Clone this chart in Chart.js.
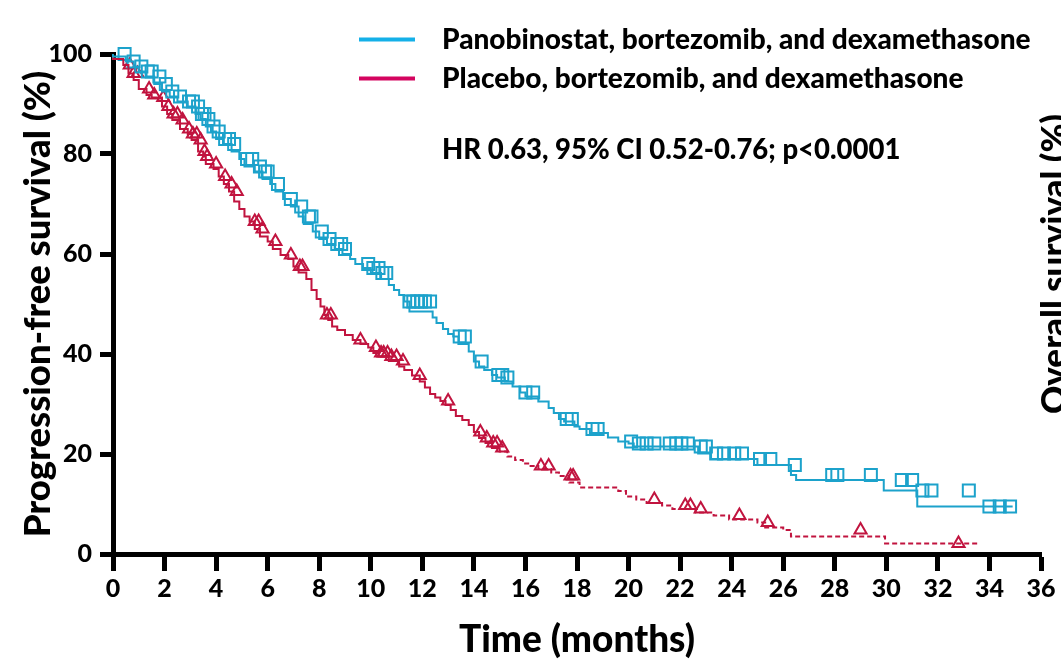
<!DOCTYPE html>
<html>
<head>
<meta charset="utf-8">
<script src="https://cdn.jsdelivr.net/npm/chart.js@4.4.1/dist/chart.umd.min.js"></script>
<style>
html, body { margin: 0; padding: 0; background: #fff; }
#wrap { width: 1061px; height: 664px; position: relative; }
</style>
</head>
<body>
<div id="wrap"><canvas id="kmChart" width="1061" height="664"></canvas></div>
<script>
// Kaplan-Meier steps (months, % progression-free)
const panoTimes = [0, 0.5, 0.8, 1.0, 1.3, 1.6, 1.9, 2.2, 2.5, 2.9, 3.2, 3.4, 3.6, 3.8, 4.0, 4.3, 4.6, 4.9, 5.1, 5.5,
    5.8, 6.1, 6.3, 6.6, 6.9, 7.2, 7.4, 7.75, 8.0, 8.3, 8.6, 8.9, 9.2, 9.4, 9.7, 10.0, 10.4, 10.7, 10.9, 11.1,
    11.3, 11.5, 12.4, 12.55, 12.8, 13.0, 13.2, 13.4, 13.8, 14.0, 14.2, 14.4, 14.7, 14.9, 15.2, 15.5, 15.8, 16.0, 16.5, 16.9,
    17.1, 17.3, 17.5, 17.9, 18.1, 18.5, 19.2, 19.6, 20.0, 20.2, 22.7, 23.2, 25.0, 26.3, 26.5, 29.9, 31.2, 33.55, 34.9];
const panoSurv = [100, 99.5, 98.5, 97.5, 96.5, 95.5, 94, 92.5, 91.5, 90.5, 89.5, 88, 87, 85.5, 84.5, 83, 82, 80.5, 79, 77.5,
    76.5, 75, 74, 72.5, 71, 69.5, 67.5, 66, 64.5, 63, 62, 61, 60, 59, 58, 57.2, 56.2, 55, 53.8, 52.8,
    51.8, 50.5, 48.5, 47.3, 46.2, 45, 44, 43.5, 42, 40.5, 38.5, 37.5, 36.8, 35.8, 35.3, 34.5, 33.5, 32.3, 31.5, 30.5,
    29.2, 28.2, 27, 26.5, 25.5, 25, 24.2, 23.3, 22.5, 22.1, 21.5, 20.1, 19.0, 17.8, 15.8, 14.8, 12.7, 9.5, 9.5];

const placeboTimes = [0, 0.4, 0.6, 0.8, 1.0, 1.3, 1.5, 1.9, 2.1, 2.3, 2.6, 2.9, 3.05, 3.3, 3.5, 3.6, 3.9, 4.1, 4.3, 4.5,
    4.7, 4.9, 5.1, 5.3, 5.5, 5.7, 6.0, 6.2, 6.5, 6.8, 7.0, 7.2, 7.5, 7.7, 7.9, 8.05, 8.2, 8.35, 8.5, 8.7,
    9.0, 9.3, 9.6, 9.9, 10.1, 10.3, 10.7, 11.1, 11.3, 11.6, 11.9, 12.1, 12.3, 12.5, 12.7, 12.9, 13.1, 13.3, 13.55, 13.8,
    14.0, 14.2, 14.45, 14.7, 15.0, 15.3, 15.6, 15.9, 16.2, 16.5, 17.0, 17.3, 17.7, 18.1, 19.6, 19.9, 20.3, 20.7, 21.3, 21.7,
    22.6, 23.3, 23.9, 25.0, 25.3, 26.0, 26.3, 29.95, 31.4, 33.57];
const placeboSurv = [100, 99, 97.8, 96.1, 94.8, 93, 91.8, 91.3, 89.5, 88, 86.8, 85, 84, 82.8, 80.5, 79.5, 78, 77, 75.5, 74,
    72.5, 70.5, 69, 67.5, 66.5, 65, 63.5, 62.5, 61, 59.8, 59, 57.5, 56.3, 55, 52.8, 51, 49.5, 47.8, 46.8, 45.5,
    44.8, 43.8, 42.8, 42, 41.3, 40.2, 39.5, 38.6, 37.5, 36.8, 35.7, 34.5, 33.3, 32, 31.3, 30.6, 29.8, 28.8, 27.6, 26.8,
    25.8, 24.4, 23.2, 22.2, 21.2, 20.5, 19.5, 18.8, 18.1, 17.6, 17.0, 16.3, 15.6, 14.3, 13.3, 12.6, 11.5, 10.9, 10.2, 9.7,
    9.0, 8.3, 7.7, 6.9, 6.3, 5.3, 4.8, 3.5, 2.1, 2.1];

// censored patients (tick marks)
const panoCensorTimes = [0.45, 0.8, 1.1, 1.35, 1.5, 1.8, 2.05, 2.3, 2.6, 2.95, 3.1, 3.3, 3.45, 3.55, 3.7, 3.9, 4.1, 4.35, 4.5, 4.7,
    5.2, 5.4, 5.7, 5.9, 6.0, 6.4, 6.9, 7.3, 7.6, 7.7, 8.1, 8.4, 8.7, 8.85, 9.0, 9.9, 10.1, 10.3, 10.45, 10.6,
    11.5, 11.65, 11.8, 11.95, 12.1, 12.3, 13.45, 13.65, 14.3, 14.95, 15.1, 15.3, 16.0, 16.3, 17.6, 17.8, 18.6, 18.8, 20.1, 20.4,
    20.7, 21.0, 21.6, 21.85, 22.05, 22.3, 22.8, 23.0, 23.4, 23.7, 24.1, 24.4, 25.1, 25.5, 26.45, 27.9, 28.1, 29.4, 30.6, 31.0,
    31.4, 31.75, 33.2, 34.0, 34.4, 34.8];
const panoCensorSurv = [100, 98.5, 97.5, 96.5, 96.5, 95.5, 94, 92.5, 91.5, 90.5, 90.5, 89.5, 88, 88, 87, 85.5, 84.5, 83, 83, 82,
    79, 79, 77.5, 76.5, 76.5, 74, 71, 69.5, 67.5, 67.5, 64.5, 63, 62, 62, 61, 58, 57.2, 57.2, 56.2, 56.2,
    50.5, 50.5, 50.5, 50.5, 50.5, 50.5, 43.5, 43.5, 38.5, 35.8, 35.8, 35.3, 32.3, 32.3, 27, 27, 25, 25, 22.5, 22.1,
    22.1, 22.1, 22.1, 22.1, 22.1, 22.1, 21.5, 21.5, 20.1, 20.1, 20.1, 20.1, 19.0, 19.0, 17.8, 15.8, 15.8, 15.8, 14.8, 14.8,
    12.7, 12.7, 12.7, 9.5, 9.5, 9.5];

const placeboCensorTimes = [0.65, 0.8, 0.95, 1.4, 1.6, 1.95, 2.15, 2.35, 2.5, 2.7, 2.95, 3.1, 3.25, 3.4, 3.55, 3.65, 4.0, 4.35, 4.6, 4.8,
    5.5, 5.65, 5.8, 6.3, 6.9, 7.25, 7.35, 8.3, 8.45, 9.6, 10.2, 10.4, 10.5, 10.65, 10.8, 11.0, 11.25, 11.9, 13.0, 14.25,
    14.5, 14.75, 14.9, 15.1, 16.6, 16.9, 17.75, 17.85, 21.0, 22.2, 22.4, 22.8, 24.3, 25.4, 29.0, 32.8];
const placeboCensorSurv = [97.8, 96.1, 96.1, 93, 91.8, 91.3, 89.5, 88, 88, 86.8, 85, 84, 84, 82.8, 80.5, 79.5, 78, 75.5, 74, 72.5,
    66.5, 66.5, 65, 62.5, 59.8, 57.5, 57.5, 47.8, 47.8, 42.8, 41.3, 40.2, 40.2, 40.2, 39.5, 39.5, 38.6, 35.7, 30.6, 24.4,
    23.2, 22.2, 22.2, 21.2, 17.6, 17.6, 15.6, 15.6, 10.9, 9.7, 9.7, 9.0, 7.7, 6.3, 4.8, 2.1];

const xTicks = [0, 2, 4, 6, 8, 10, 12, 14, 16, 18, 20, 22, 24, 26, 28, 30, 32, 34, 36];
const yTicks = [0, 20, 40, 60, 80, 100];

const seriesLabels = ['Panobinostat, bortezomib, and dexamethasone', 'Placebo, bortezomib, and dexamethasone'];
const statsText = 'HR 0.63, 95% CI 0.52-0.76; p<0.0001';
const dashFrom = 15; // placebo curve turns dashed here

const panoColor = '#1ca2cb';
const placeboColor = '#c1143f';
const legendColors = ['#14b0e8', '#d4045f'];
const FONT = 'Lato';
const W = '900';

const toPoints = (xs, ys) => xs.map((x, i) => ({ x: x, y: ys[i] }));

// legend, HR text and the clipped neighbour-panel title
const annotations = {
    id: 'annotations',
    afterDraw(chart) {
        const ctx = chart.ctx;
        ctx.save();
        const lineY = [39.5, 78.5];
        const textY = [49, 88];
        seriesLabels.forEach((label, i) => {
            ctx.strokeStyle = legendColors[i];
            ctx.lineWidth = 4;
            ctx.beginPath();
            ctx.moveTo(359, lineY[i]);
            ctx.lineTo(415, lineY[i]);
            ctx.stroke();
            ctx.fillStyle = '#000';
            ctx.font = `${W} 28px ${FONT}`;
            ctx.textBaseline = 'alphabetic';
            ctx.textAlign = 'left';
            ctx.fillText(label, 442, textY[i]);
        });
        ctx.font = `${W} 27.5px ${FONT}`;
        ctx.fillText(statsText, 442, 159);

        ctx.translate(1066, 264);
        ctx.rotate(-Math.PI / 2);
        ctx.font = `${W} 35px ${FONT}`;
        ctx.textAlign = 'center';
        ctx.fillText('Overall survival (%)', 0, 0);
        ctx.restore();
    }
};

function drawChart() {
    const ctx = document.getElementById('kmChart').getContext('2d');
    const tickFont = { family: FONT, size: 25, weight: W };

    window.kmChart = new Chart(ctx, {
        type: 'scatter',
        data: {
            datasets: [{
                data: toPoints(panoTimes, panoSurv),
                showLine: true,
                stepped: 'after',
                borderColor: panoColor,
                borderWidth: 2,
                pointRadius: 0,
                clip: false
            }, {
                data: toPoints(placeboTimes, placeboSurv),
                showLine: true,
                stepped: 'after',
                borderColor: placeboColor,
                borderWidth: 2,
                pointRadius: 0,
                clip: false,
                segment: {
                    borderDash: c => c.p0.parsed.x >= dashFrom ? [5, 3] : undefined
                }
            }, {
                data: toPoints(panoCensorTimes, panoCensorSurv),
                showLine: false,
                pointStyle: 'rect',
                pointRadius: 8.5,
                borderWidth: 2,
                borderColor: panoColor,
                backgroundColor: 'rgba(0,0,0,0)',
                clip: false
            }, {
                data: toPoints(placeboCensorTimes, placeboCensorSurv),
                showLine: false,
                pointStyle: 'triangle',
                pointRadius: 7,
                borderWidth: 2,
                borderColor: placeboColor,
                backgroundColor: 'rgba(0,0,0,0)',
                clip: false
            }]
        },
        options: {
            responsive: false,
            animation: false,
            events: [],
            layout: { padding: { top: 54, right: 20, left: 0, bottom: 0 } },
            plugins: {
                legend: { display: false },
                tooltip: { enabled: false }
            },
            scales: {
                x: {
                    type: 'linear',
                    min: 0,
                    max: 36,
                    afterBuildTicks: s => { s.ticks = xTicks.map(v => ({ value: v })); },
                    afterFit: s => { s.height = 110; },
                    ticks: { font: tickFont, color: '#000', padding: 3, maxRotation: 0, autoSkip: false },
                    grid: { drawOnChartArea: false, tickLength: 17, tickWidth: 5, tickColor: '#000' },
                    border: { width: 5, color: '#000' },
                    title: {
                        display: true,
                        text: 'Time (months)',
                        color: '#000',
                        font: { family: FONT, size: 37, weight: W },
                        padding: { top: 0, bottom: 2 }
                    }
                },
                y: {
                    min: 0,
                    max: 100,
                    afterBuildTicks: s => { s.ticks = yTicks.map(v => ({ value: v })); },
                    afterFit: s => { s.width = 113; },
                    ticks: { font: tickFont, color: '#000', padding: 8 },
                    grid: { drawOnChartArea: false, tickLength: 13, tickWidth: 5, tickColor: '#000' },
                    border: { width: 5, color: '#000' },
                    title: {
                        display: true,
                        text: 'Progression-free survival (%)',
                        color: '#000',
                        font: { family: FONT, size: 36.5, weight: W },
                        padding: { top: 16, bottom: 0 }
                    }
                }
            }
        },
        plugins: [annotations]
    });
}

Promise.all([
    document.fonts.load(`${W} 25px ${FONT}`),
    document.fonts.load(`${W} 37px ${FONT}`)
]).catch(() => {}).then(drawChart);
</script>
</body>
</html>
